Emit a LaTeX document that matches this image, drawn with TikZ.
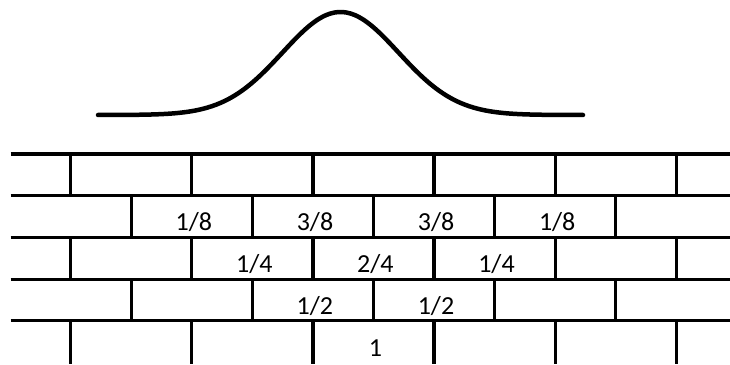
\documentclass[tikz,border=0pt]{standalone}
\usepackage{fontspec}
\setmainfont{Carlito}
\begin{document}
\begin{tikzpicture}[
    x=1pt, y=-1pt,
    wall/.style={line width=3.2pt},
    bell/.style={line width=4.5pt, line cap=round},
    frac/.style={anchor=base, inner sep=0pt, font=\fontsize{26}{31}\selectfont}
  ]
  \useasboundingbox (0,0) rectangle (730,364);
  % bell curve
  \draw[bell] plot[domain=98:583, samples=120, smooth]
    (\x, {115-103*exp(-0.5*((\x-340.5)/58)^2)});
  % bed joints
  \foreach \y in {154,195.7,237.4,279.1,320.8}
    \draw[wall] (10.7,\y) -- (730,\y);
  % head joints, rows 1, 3, 5
  \foreach \top/\bot in {154/195.7,237.4/279.1,320.8/364}
    \foreach \k in {0,...,5}
      \draw[wall] (70.7+121.1*\k,\top) -- (70.7+121.1*\k,\bot);
  % head joints, rows 2, 4
  \foreach \top/\bot in {195.7/237.4,279.1/320.8}
    \foreach \k in {0,...,4}
      \draw[wall] (131.3+121.1*\k,\top) -- (131.3+121.1*\k,\bot);
  % fractions
  \foreach \n/\d [count=\k from 0] in {1/8,3/8,3/8,1/8}
    \node[frac] (r2-\k) at (193.9+121.1*\k,230.9) {\n/\d};
  \foreach \n/\d [count=\k from 0] in {1/4,2/4,1/4}
    \node[frac] (r3-\k) at (254.3+121.1*\k,272.6) {\n/\d};
  \foreach \n/\d [count=\k from 0] in {1/2,1/2}
    \node[frac] (r4-\k) at (314.9+121.1*\k,314.3) {\n/\d};
  \node[frac] (r5) at (375.4,356.7) {1};
\end{tikzpicture}
\end{document}
